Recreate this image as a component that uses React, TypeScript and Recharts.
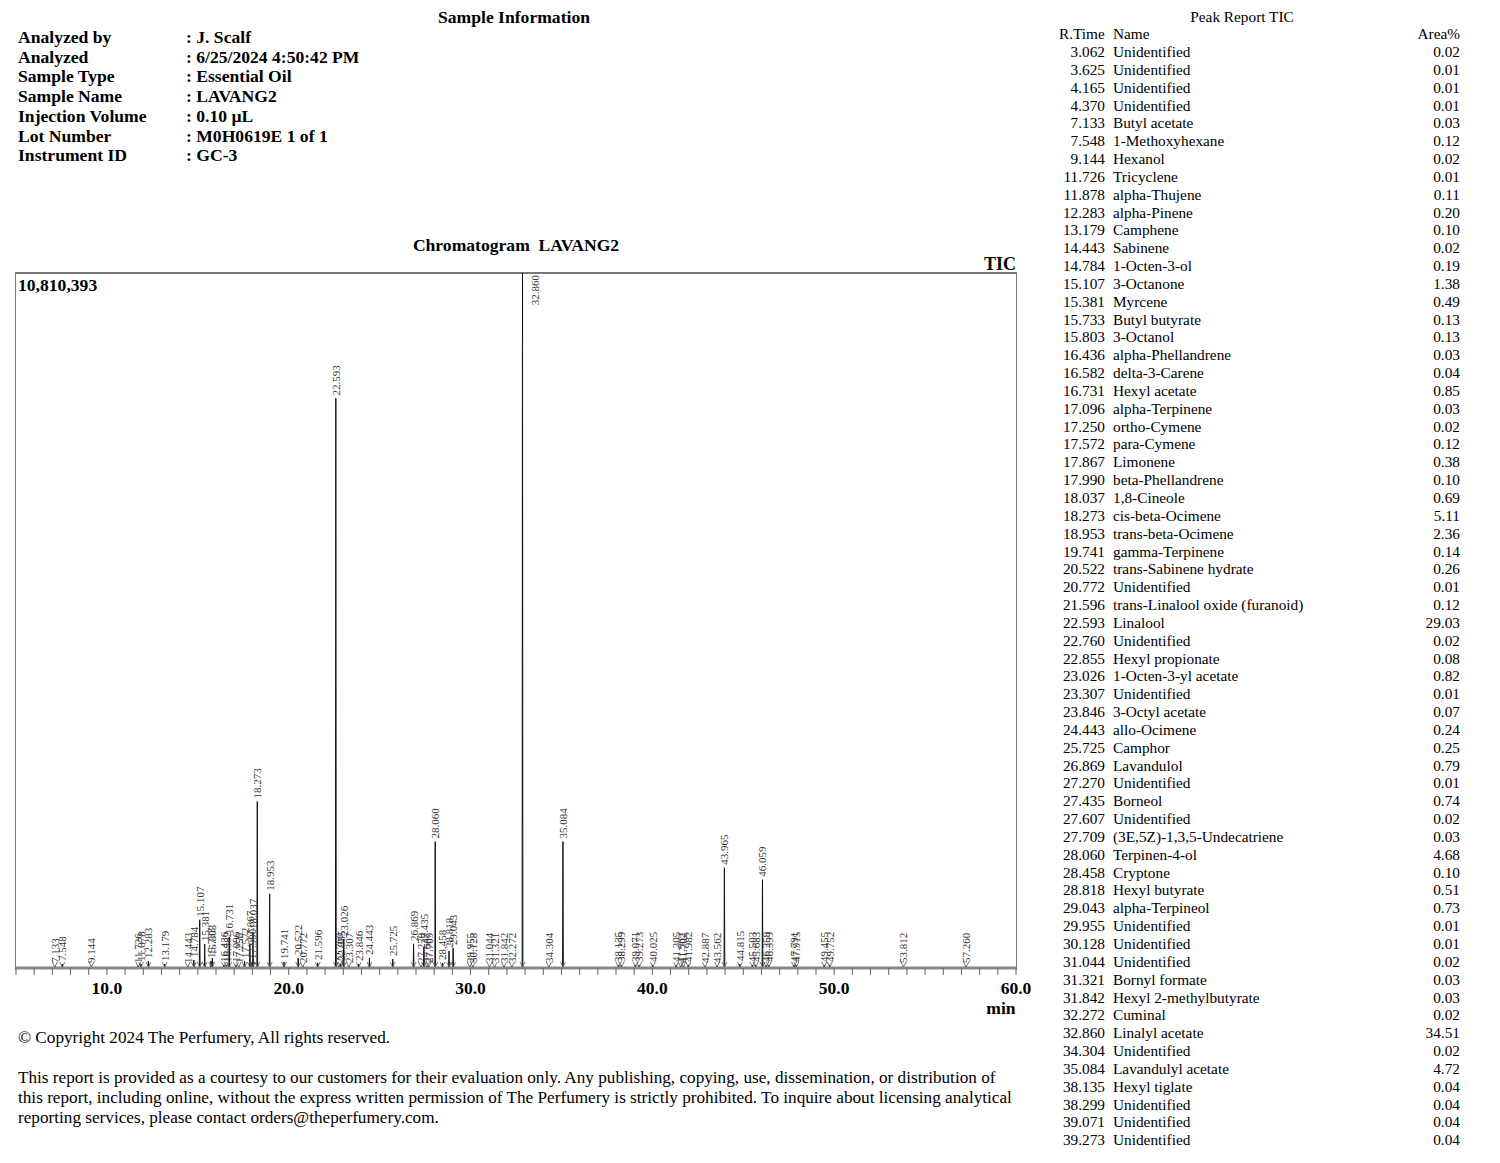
import { Bar, ComposedChart, LabelList, Scatter, XAxis, YAxis } from "recharts";

const infoLabels = ["Analyzed by", "Analyzed", "Sample Type", "Sample Name", "Injection Volume", "Lot Number", "Instrument ID"];
const infoValues = [": J. Scalf", ": 6/25/2024 4:50:42 PM", ": Essential Oil", ": LAVANG2", ": 0.10 µL", ": M0H0619E 1 of 1", ": GC-3"];

// peak report table (right column)
const reportTimes = [
  "3.062", "3.625", "4.165", "4.370", "7.133", "7.548", "9.144", "11.726", "11.878", "12.283",
  "13.179", "14.443", "14.784", "15.107", "15.381", "15.733", "15.803", "16.436", "16.582", "16.731",
  "17.096", "17.250", "17.572", "17.867", "17.990", "18.037", "18.273", "18.953", "19.741", "20.522",
  "20.772", "21.596", "22.593", "22.760", "22.855", "23.026", "23.307", "23.846", "24.443", "25.725",
  "26.869", "27.270", "27.435", "27.607", "27.709", "28.060", "28.458", "28.818", "29.043", "29.955",
  "30.128", "31.044", "31.321", "31.842", "32.272", "32.860", "34.304", "35.084", "38.135", "38.299",
  "39.071", "39.273",
];
const reportNames = [
  "Unidentified", "Unidentified", "Unidentified", "Unidentified", "Butyl acetate", "1-Methoxyhexane", "Hexanol", "Tricyclene", "alpha-Thujene", "alpha-Pinene",
  "Camphene", "Sabinene", "1-Octen-3-ol", "3-Octanone", "Myrcene", "Butyl butyrate", "3-Octanol", "alpha-Phellandrene", "delta-3-Carene", "Hexyl acetate",
  "alpha-Terpinene", "ortho-Cymene", "para-Cymene", "Limonene", "beta-Phellandrene", "1,8-Cineole", "cis-beta-Ocimene", "trans-beta-Ocimene", "gamma-Terpinene", "trans-Sabinene hydrate",
  "Unidentified", "trans-Linalool oxide (furanoid)", "Linalool", "Unidentified", "Hexyl propionate", "1-Octen-3-yl acetate", "Unidentified", "3-Octyl acetate", "allo-Ocimene", "Camphor",
  "Lavandulol", "Unidentified", "Borneol", "Unidentified", "(3E,5Z)-1,3,5-Undecatriene", "Terpinen-4-ol", "Cryptone", "Hexyl butyrate", "alpha-Terpineol", "Unidentified",
  "Unidentified", "Unidentified", "Bornyl formate", "Hexyl 2-methylbutyrate", "Cuminal", "Linalyl acetate", "Unidentified", "Lavandulyl acetate", "Hexyl tiglate", "Unidentified",
  "Unidentified", "Unidentified",
];
const reportAreas = [
  "0.02", "0.01", "0.01", "0.01", "0.03", "0.12", "0.02", "0.01", "0.11", "0.20",
  "0.10", "0.02", "0.19", "1.38", "0.49", "0.13", "0.13", "0.03", "0.04", "0.85",
  "0.03", "0.02", "0.12", "0.38", "0.10", "0.69", "5.11", "2.36", "0.14", "0.26",
  "0.01", "0.12", "29.03", "0.02", "0.08", "0.82", "0.01", "0.07", "0.24", "0.25",
  "0.79", "0.01", "0.74", "0.02", "0.03", "4.68", "0.10", "0.51", "0.73", "0.01",
  "0.01", "0.02", "0.03", "0.03", "0.02", "34.51", "0.02", "4.72", "0.04", "0.04",
  "0.04", "0.04",
];

// chromatogram peaks: retention time (min) and peak height (counts)
const peakTimes = [
  7.133, 7.548, 9.144, 11.726, 11.878, 12.283, 13.179, 14.443, 14.784, 15.107,
  15.381, 15.733, 15.803, 16.436, 16.582, 16.731, 17.096, 17.25, 17.572, 17.867,
  17.99, 18.037, 18.273, 18.953, 19.741, 20.522, 20.772, 21.596, 22.593, 22.76,
  22.855, 23.026, 23.307, 23.846, 24.443, 25.725, 26.869, 27.27, 27.435, 27.607,
  27.709, 28.06, 28.458, 28.818, 29.043, 29.955, 30.128, 31.044, 31.321, 31.842,
  32.272, 32.86, 34.304, 35.084, 38.135, 38.299, 39.071, 39.273, 40.025, 41.305,
  41.562, 41.702, 41.982, 42.887, 43.562, 43.965, 44.815, 45.503, 45.683, 46.059,
  46.259, 46.399, 47.791, 47.915, 49.455, 49.752, 53.812, 57.26,
];
const peakHeights = [
  31000, 62000, 31000, 31000, 62000, 109000, 62000, 31000, 125000, 750000,
  375000, 109000, 156000, 47000, 47000, 484000, 47000, 31000, 109000, 375000,
  94000, 562000, 2590000, 1154000, 94000, 156000, 31000, 78000, 8860000, 31000,
  62000, 452000, 31000, 62000, 156000, 140000, 375000, 31000, 328000, 31000,
  31000, 1966000, 78000, 265000, 312000, 31000, 31000, 31000, 31000, 31000,
  31000, 10810393, 31000, 1966000, 47000, 47000, 47000, 47000, 47000, 47000,
  31000, 31000, 47000, 31000, 31000, 1560000, 62000, 47000, 47000, 1373000,
  47000, 47000, 47000, 47000, 47000, 47000, 31000, 31000,
];

const minuteTicks = Array.from({ length: 56 }, (_, i) => 5 + i);

const chartData = peakTimes.map((t, i) => ({ time: t, height: peakHeights[i], base: 0 }));

const SERIF = '"Liberation Serif", "Times New Roman", serif';
const PLOT_TOP = 23;

function PeakShape(props: any) {
  const { x, y, width, height } = props;
  if (x == null || height == null) return null;
  const mid = x + width / 2;
  return (
    <path
      d={`M${x},${y + height} L${mid},${y} L${x + width},${y + height}`}
      fill="none"
      stroke="#111"
      strokeWidth={1}
    />
  );
}

function PeakLabel(props: any) {
  const { x, y, width, value } = props;
  if (x == null) return null;
  const cx = x + width / 2;
  const txt = Number(value).toFixed(3);
  if (y < PLOT_TOP + 36) {
    const ax = cx + 12;
    const ay = PLOT_TOP + 2;
    return (
      <text x={ax} y={ay} transform={`rotate(-90 ${ax} ${ay})`} textAnchor="end" dominantBaseline="central"
        fontSize={11} fontFamily={SERIF} fill="#333">
        {txt}
      </text>
    );
  }
  const ay = y - 3;
  return (
    <text x={cx} y={ay} transform={`rotate(-90 ${cx} ${ay})`} textAnchor="start" dominantBaseline="central"
      fontSize={11} fontFamily={SERIF} fill="#333">
      {txt}
    </text>
  );
}

function BaseMark(props: any) {
  const { cx, cy } = props;
  if (cx == null) return null;
  return (
    <g>
      <line x1={cx} x2={cx} y1={cy} y2={cy + 9} stroke="#777" strokeWidth={1} />
      <path d={`M${cx - 2.5},${cy - 6} L${cx},${cy - 1} L${cx + 2.5},${cy - 6}`} fill="none" stroke="#555" strokeWidth={0.8} />
    </g>
  );
}

function MinuteTick(props: any) {
  const { x, y, payload } = props;
  const v = Number(payload.value);
  const major = v % 10 === 0;
  return (
    <g>
      <line x1={x} x2={x} y1={y} y2={y + 7} stroke="#666" strokeWidth={1} />
      {major && (
        <text x={x} y={y + 26} textAnchor="middle" fontWeight="bold" fontSize={17.5} fontFamily={SERIF} fill="#000">
          {v.toFixed(1)}
        </text>
      )}
    </g>
  );
}

const abs = (left: number, top: number, extra: any = {}) => ({ position: "absolute" as const, left, top, whiteSpace: "nowrap" as const, ...extra });

export default function App() {
  const rowStep = 17.84;
  const info = { fontWeight: "bold", fontSize: 17.6, lineHeight: "20px" };
  const tbl = { fontSize: 15.3, lineHeight: "18px" };
  return (
    <div style={{ position: "relative", width: 1500, height: 1163, margin: -8, background: "#fff", color: "#000", fontFamily: SERIF, overflow: "hidden" }}>
      <div style={abs(364, 7, { width: 300, textAlign: "center", ...info })}>Sample Information</div>
      {infoLabels.map((l, i) => (
        <div key={l}>
          <div style={abs(18, 27 + i * 19.7, info)}>{l}</div>
          <div style={abs(186, 27 + i * 19.7, info)}>{infoValues[i]}</div>
        </div>
      ))}

      <div style={abs(316, 235, { width: 400, textAlign: "center", ...info, whiteSpace: "pre" })}>Chromatogram  LAVANG2</div>
      <div style={abs(916, 254, { width: 100, textAlign: "right", fontWeight: "bold", fontSize: 18, lineHeight: "20px" })}>TIC</div>

      <div style={{ position: "absolute", left: 15, top: 272, width: 1000, height: 696, borderTop: "2px solid #777", borderLeft: "1px solid #777", borderRight: "1px solid #777" }} />

      <div style={{ position: "absolute", left: 0, top: 250 }}>
        <ComposedChart width={1040} height={780} data={chartData} margin={{ top: PLOT_TOP, right: 24, bottom: 0, left: 16 }} style={{ overflow: "visible" }}>
          <XAxis
            dataKey="time"
            type="number"
            domain={[5, 60]}
            ticks={minuteTicks}
            interval={0}
            height={62}
            tickSize={0}
            tickMargin={0}
            tick={<MinuteTick />}
            axisLine={{ stroke: "#888", strokeWidth: 3 }}
            allowDataOverflow
          />
          <YAxis hide type="number" domain={[0, 10810393]} allowDataOverflow />
          <Bar dataKey="height" barSize={4} shape={<PeakShape />} isAnimationActive={false}>
            <LabelList dataKey="time" content={<PeakLabel />} />
          </Bar>
          <Scatter dataKey="base" shape={<BaseMark />} isAnimationActive={false} />
        </ComposedChart>
      </div>

      <div style={abs(18, 275, info)}>10,810,393</div>
      <div style={abs(976, 998, { width: 50, textAlign: "center", ...info })}>min</div>

      <div style={abs(18, 1028, { fontSize: 17.2, lineHeight: "20px" })}>© Copyright 2024 The Perfumery, All rights reserved.</div>
      <div style={abs(18, 1068, { fontSize: 17.2, lineHeight: "20px" })}>
        This report is provided as a courtesy to our customers for their evaluation only. Any publishing, copying, use, dissemination, or distribution of
        <br />
        this report, including online, without the express written permission of The Perfumery is strictly prohibited. To inquire about licensing analytical
        <br />
        reporting services, please contact orders@theperfumery.com.
      </div>

      <div style={abs(1142, 8, { width: 200, textAlign: "center", ...tbl })}>Peak Report TIC</div>
      <div style={abs(1059, 25, tbl)}>R.Time</div>
      <div style={abs(1113, 25, tbl)}>Name</div>
      <div style={abs(1380, 25, { width: 80, textAlign: "right", ...tbl })}>Area%</div>
      {reportTimes.map((t, i) => (
        <div key={i}>
          <div style={abs(1045, 43 + i * rowStep, { width: 60, textAlign: "right", ...tbl })}>{t}</div>
          <div style={abs(1113, 43 + i * rowStep, tbl)}>{reportNames[i]}</div>
          <div style={abs(1380, 43 + i * rowStep, { width: 80, textAlign: "right", ...tbl })}>{reportAreas[i]}</div>
        </div>
      ))}
    </div>
  );
}
